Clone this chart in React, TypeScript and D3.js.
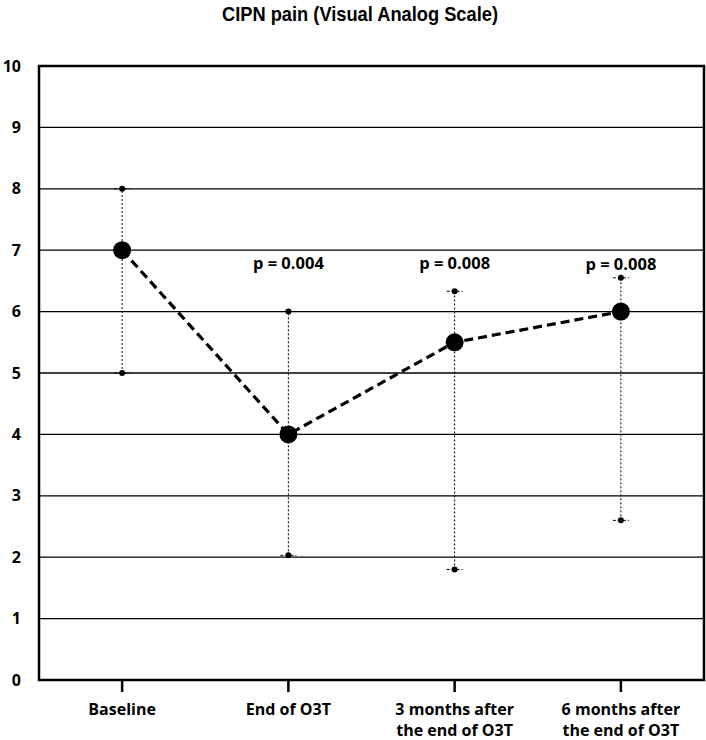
import React from "react";
import * as d3 from "d3";

const categories = ["Baseline", "End of O3T", "3 months after|the end of O3T", "6 months after|the end of O3T"];
const means = [7, 4, 5.5, 6];
const lowers = [5, 2.03, 1.8, 2.6];
const uppers = [8, 6, 6.33, 6.55];
const pLabels = ["", "p = 0.004", "p = 0.008", "p = 0.008"];
const pLabelY = [0, 6.7, 6.69, 6.68];
const yTicks = [0, 1, 2, 3, 4, 5, 6, 7, 8, 9, 10];

export default function App() {
  const W = 706, H = 740;
  const L = 39, R = 704, T = 66, B = 680;
  const x = d3.scalePoint<number>().domain(d3.range(categories.length)).range([L, R]).padding(0.5);
  const y = d3.scaleLinear().domain([0, 10]).range([B, T]);
  const line = d3.line<number>().x((_, i) => x(i)!).y((d) => y(d));
  const font = "'Open Sans', Lato, sans-serif";
  return (
    <svg width={W} height={H} style={{ position: "absolute", left: 0, top: 0, background: "#fff" }}>
      <rect x={0} y={0} width={W} height={H} fill="#fff" />
      <text x={360} y={21} textAnchor="middle" fontFamily="'Liberation Sans', Arial, sans-serif" fontWeight="bold" fontSize={20.5} textLength={276} lengthAdjust="spacingAndGlyphs">
        CIPN pain (Visual Analog Scale)
      </text>
      {yTicks.filter((t) => t > 0 && t < 10).map((t) => (
        <line key={t} x1={L} x2={R} y1={y(t)} y2={y(t)} stroke="#000" strokeWidth={1.3} />
      ))}
      <rect x={L} y={T} width={R - L} height={B - T} fill="none" stroke="#000" strokeWidth={2.5} />
      {yTicks.map((t) => (
        <text key={t} x={21} y={y(t)} dy="0.35em" textAnchor="end" fontFamily={font} fontWeight="bold" fontSize={16}>
          {t}
        </text>
      ))}
      {categories.map((c, i) => (
        <g key={c}>
          <line x1={x(i)} x2={x(i)} y1={B} y2={B + 12} stroke="#000" strokeWidth={2.5} />
          {c.split("|").map((s, j) => (
            <text key={j} x={x(i)} y={B + 35 + j * 21} textAnchor="middle" fontFamily={font} fontWeight="bold" fontSize={16}>
              {s}
            </text>
          ))}
        </g>
      ))}
      {categories.map((c, i) => (
        <g key={"e" + i}>
          <line x1={x(i)} x2={x(i)} y1={y(lowers[i])} y2={y(uppers[i])} stroke="#000" strokeWidth={1} strokeDasharray="2,2" />
          {[lowers[i], uppers[i]].map((v, k) => (
            <g key={k}>
              <line x1={x(i)! - 8} x2={x(i)! + 8} y1={y(v)} y2={y(v)} stroke="#000" strokeWidth={1} strokeDasharray="3,2" />
              <circle cx={x(i)} cy={y(v)} r={3} fill="#000" />
            </g>
          ))}
        </g>
      ))}
      <path d={line(means) || ""} fill="none" stroke="#000" strokeWidth={3.2} strokeDasharray="9,5" />
      {means.map((m, i) => (
        <circle key={i} cx={x(i)} cy={y(m)} r={9} fill="#000" />
      ))}
      {pLabels.map((p, i) =>
        p ? (
          <text key={i} x={x(i)} y={y(pLabelY[i])} textAnchor="middle" fontFamily={font} fontWeight="bold" fontSize={16.5}>
            {p}
          </text>
        ) : null
      )}
    </svg>
  );
}
